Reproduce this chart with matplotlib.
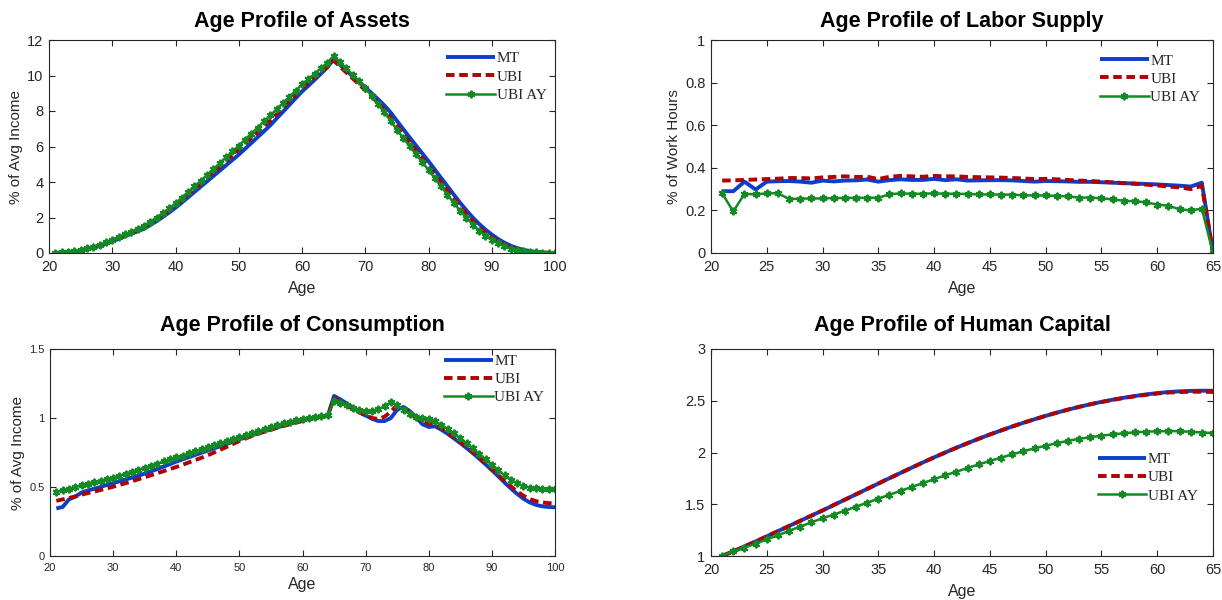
import numpy as np
import matplotlib
matplotlib.use("Agg")
import matplotlib.pyplot as plt
from matplotlib.ticker import FuncFormatter

# ---------------- data ----------------
age_long = list(range(21, 101))
age_work = list(range(21, 66))

assets_mt = [0.00, 0.02, 0.05, 0.09, 0.14, 0.21, 0.29, 0.39, 0.52, 0.66,
             0.80, 0.94, 1.08, 1.22, 1.36, 1.57, 1.79, 2.03, 2.28, 2.55,
             2.84, 3.14, 3.44, 3.74, 4.04, 4.34, 4.64, 4.94, 5.24, 5.54,
             5.87, 6.20, 6.53, 6.86, 7.20, 7.58, 7.96, 8.34, 8.72, 9.10,
             9.42, 9.76, 10.10, 10.46, 10.90, 10.60, 10.28, 9.97, 9.65, 9.33,
             9.00, 8.67, 8.32, 7.92, 7.45, 6.98, 6.52, 6.07, 5.62, 5.17,
             4.70, 4.23, 3.76, 3.29, 2.83, 2.40, 2.00, 1.64, 1.32, 1.04,
             0.79, 0.58, 0.41, 0.28, 0.18, 0.11, 0.06, 0.03, 0.01, 0.00]
assets_ubi = [0.00, 0.02, 0.06, 0.10, 0.16, 0.23, 0.32, 0.42, 0.55, 0.71,
              0.85, 1.00, 1.14, 1.29, 1.45, 1.67, 1.90, 2.14, 2.40, 2.68,
              2.98, 3.29, 3.60, 3.91, 4.22, 4.54, 4.86, 5.18, 5.50, 5.82,
              6.15, 6.48, 6.81, 7.14, 7.47, 7.83, 8.19, 8.55, 8.91, 9.27,
              9.58, 9.88, 10.18, 10.48, 10.85, 10.50, 10.17, 9.84, 9.50, 9.17,
              8.82, 8.46, 8.08, 7.65, 7.18, 6.71, 6.25, 5.80, 5.35, 4.90,
              4.44, 3.98, 3.52, 3.06, 2.61, 2.19, 1.80, 1.45, 1.15, 0.89,
              0.67, 0.48, 0.33, 0.22, 0.14, 0.08, 0.04, 0.02, 0.01, 0.00]
assets_ay = [0.00, 0.03, 0.07, 0.12, 0.18, 0.26, 0.35, 0.46, 0.60, 0.76,
             0.90, 1.05, 1.20, 1.36, 1.53, 1.76, 2.00, 2.25, 2.52, 2.80,
             3.11, 3.43, 3.75, 4.07, 4.40, 4.73, 5.06, 5.39, 5.72, 6.05,
             6.39, 6.73, 7.07, 7.41, 7.75, 8.10, 8.45, 8.80, 9.15, 9.50,
             9.80, 10.10, 10.40, 10.72, 11.10, 10.75, 10.40, 10.05, 9.68, 9.30,
             8.85, 8.40, 7.93, 7.45, 6.95, 6.48, 6.02, 5.57, 5.12, 4.68,
             4.21, 3.75, 3.28, 2.82, 2.38, 1.98, 1.60, 1.25, 0.98, 0.75,
             0.55, 0.38, 0.25, 0.16, 0.10, 0.06, 0.03, 0.02, 0.01, 0.00]

labor_mt = [0.290, 0.290, 0.335, 0.298, 0.335, 0.337, 0.338, 0.335, 0.330, 0.340,
            0.336, 0.340, 0.341, 0.345, 0.335, 0.342, 0.346, 0.343, 0.343, 0.348,
            0.342, 0.346, 0.340, 0.341, 0.342, 0.342, 0.341, 0.338, 0.335, 0.338,
            0.337, 0.336, 0.334, 0.334, 0.332, 0.330, 0.328, 0.326, 0.324, 0.322,
            0.319, 0.316, 0.312, 0.330, 0.0]
labor_ubi = [0.340, 0.341, 0.343, 0.345, 0.347, 0.349, 0.352, 0.352, 0.350, 0.355,
             0.357, 0.360, 0.357, 0.358, 0.347, 0.358, 0.362, 0.360, 0.358, 0.362,
             0.360, 0.360, 0.357, 0.356, 0.355, 0.354, 0.352, 0.350, 0.347, 0.348,
             0.346, 0.343, 0.340, 0.338, 0.335, 0.332, 0.328, 0.325, 0.321, 0.317,
             0.312, 0.308, 0.300, 0.315, 0.0]
labor_ay = [0.280, 0.195, 0.278, 0.275, 0.280, 0.281, 0.253, 0.255, 0.256, 0.256,
            0.258, 0.258, 0.259, 0.259, 0.259, 0.276, 0.280, 0.278, 0.278, 0.280,
            0.278, 0.278, 0.277, 0.275, 0.275, 0.274, 0.274, 0.271, 0.270, 0.270,
            0.268, 0.266, 0.260, 0.260, 0.257, 0.252, 0.245, 0.243, 0.238, 0.227,
            0.222, 0.205, 0.200, 0.208, 0.0]

cons_mt = [0.345, 0.355, 0.410, 0.430, 0.460, 0.475, 0.487, 0.500, 0.515, 0.528,
           0.541, 0.555, 0.568, 0.582, 0.597, 0.613, 0.630, 0.648, 0.666, 0.684,
           0.700, 0.716, 0.732, 0.748, 0.764, 0.780, 0.796, 0.812, 0.828, 0.845,
           0.860, 0.875, 0.890, 0.904, 0.918, 0.932, 0.945, 0.958, 0.970, 0.982,
           0.993, 1.002, 1.010, 1.015, 1.160, 1.135, 1.105, 1.075, 1.045, 1.018,
           0.995, 0.978, 0.978, 1.000, 1.060, 1.080, 1.050, 1.005, 0.955, 0.935,
           0.940, 0.915, 0.885, 0.852, 0.818, 0.782, 0.745, 0.705, 0.664, 0.622,
           0.578, 0.533, 0.490, 0.450, 0.415, 0.388, 0.370, 0.360, 0.355, 0.353]
cons_ubi = [0.400, 0.410, 0.420, 0.432, 0.444, 0.456, 0.467, 0.478, 0.490, 0.502,
            0.515, 0.528, 0.542, 0.556, 0.570, 0.585, 0.600, 0.615, 0.630, 0.645,
            0.661, 0.678, 0.695, 0.712, 0.730, 0.750, 0.770, 0.791, 0.812, 0.833,
            0.852, 0.870, 0.886, 0.901, 0.915, 0.929, 0.942, 0.955, 0.967, 0.978,
            0.990, 1.000, 1.008, 1.014, 1.145, 1.120, 1.092, 1.065, 1.040, 1.018,
            1.000, 0.993, 1.010, 1.045, 1.095, 1.070, 1.035, 1.000, 0.975, 0.960,
            0.950, 0.925, 0.893, 0.860, 0.826, 0.790, 0.752, 0.712, 0.672, 0.630,
            0.588, 0.545, 0.505, 0.468, 0.437, 0.413, 0.397, 0.388, 0.383, 0.381]
cons_ay = [0.465, 0.475, 0.488, 0.500, 0.512, 0.523, 0.535, 0.546, 0.557, 0.568,
           0.582, 0.597, 0.612, 0.626, 0.640, 0.655, 0.670, 0.685, 0.700, 0.714,
           0.728, 0.743, 0.758, 0.773, 0.788, 0.803, 0.818, 0.833, 0.848, 0.862,
           0.876, 0.890, 0.905, 0.920, 0.935, 0.950, 0.962, 0.973, 0.983, 0.992,
           1.000, 1.008, 1.015, 1.020, 1.125, 1.108, 1.092, 1.075, 1.060, 1.048,
           1.050, 1.062, 1.085, 1.115, 1.095, 1.060, 1.030, 1.010, 1.000, 0.990,
           0.975, 0.950, 0.920, 0.888, 0.853, 0.817, 0.780, 0.740, 0.700, 0.660,
           0.622, 0.585, 0.553, 0.527, 0.508, 0.496, 0.490, 0.488, 0.488, 0.487]

hc_mt = [1.000, 1.045, 1.092, 1.140, 1.190, 1.240, 1.290, 1.340, 1.390, 1.440,
         1.492, 1.544, 1.596, 1.648, 1.700, 1.752, 1.803, 1.854, 1.904, 1.953,
         2.000, 2.046, 2.090, 2.133, 2.174, 2.213, 2.251, 2.287, 2.321, 2.354,
         2.385, 2.414, 2.441, 2.466, 2.489, 2.510, 2.529, 2.546, 2.561, 2.574,
         2.584, 2.591, 2.595, 2.597, 2.597]
hc_ubi = [1.000, 1.045, 1.092, 1.140, 1.190, 1.240, 1.290, 1.340, 1.390, 1.440,
          1.492, 1.544, 1.596, 1.648, 1.700, 1.752, 1.803, 1.854, 1.904, 1.953,
          2.000, 2.046, 2.090, 2.133, 2.174, 2.213, 2.251, 2.287, 2.321, 2.354,
          2.385, 2.414, 2.441, 2.466, 2.488, 2.508, 2.527, 2.543, 2.557, 2.570,
          2.579, 2.584, 2.587, 2.587, 2.585]
hc_ay = [1.000, 1.048, 1.080, 1.120, 1.160, 1.200, 1.243, 1.285, 1.325, 1.365,
         1.400, 1.438, 1.477, 1.515, 1.555, 1.592, 1.630, 1.667, 1.705, 1.742,
         1.780, 1.815, 1.850, 1.885, 1.918, 1.950, 1.982, 2.012, 2.040, 2.065,
         2.090, 2.113, 2.132, 2.148, 2.162, 2.175, 2.186, 2.195, 2.201, 2.205,
         2.207, 2.206, 2.200, 2.193, 2.188]

series_labels = ["MT", "UBI", "UBI AY"]
titles = ["Age Profile of Assets", "Age Profile of Labor Supply",
          "Age Profile of Consumption", "Age Profile of Human Capital"]
ylabels = ["% of Avg Income", "% of Work Hours", "% of Avg Income", ""]

# ---------------- style ----------------
C_BLUE = "#0a3fcc"
C_RED = "#b00000"
C_GREEN = "#148a24"
TXT = "#262626"
SANS = ["Liberation Sans", "DejaVu Sans"]
SERIF = ["Liberation Serif", "DejaVu Serif"]
plt.rcParams["font.family"] = SANS

fig = plt.figure(figsize=(12.22, 6.0), dpi=100)
W, H = 1222, 600

def make_ax(l, r, t, b):
    return fig.add_axes([l / W, 1 - b / H, (r - l) / W, (b - t) / H])

axes = [make_ax(49, 555, 40, 253), make_ax(711, 1213, 40, 253),
        make_ax(50, 555, 349, 556), make_ax(711, 1213, 349, 556)]

data = [
    (age_long, assets_mt, assets_ubi, assets_ay, (20, 100), (0, 12), range(20, 101, 10), np.arange(0, 13, 2)),
    (age_work, labor_mt, labor_ubi, labor_ay, (20, 65), (0, 1), range(20, 66, 5), np.arange(0, 1.01, 0.2)),
    (age_long, cons_mt, cons_ubi, cons_ay, (20, 100), (0, 1.5), range(20, 101, 10), np.arange(0, 1.51, 0.5)),
    (age_work, hc_mt, hc_ubi, hc_ay, (20, 65), (1, 3), range(20, 66, 5), np.arange(1, 3.01, 0.5)),
]
tick_fs = [10.5, 10.5, 8.0, 10.5]
title_pad = [9, 9, 13, 13]
xlabel_pad = [5, 5, 3, 5]
legend_anchor = [(0.785, 0.945), (0.775, 0.935), (0.78, 0.975), (0.77, 0.50)]

for i, ax in enumerate(axes):
    x, mt, ubi, ay, xl, yl, xt, yt = data[i]
    ax.plot(x, mt, color=C_BLUE, lw=2.8, label=series_labels[0], solid_capstyle="butt")
    ax.plot(x, ubi, color=C_RED, lw=2.8, ls=(0, (2.2, 1.2)), label=series_labels[1])
    ax.plot(x, ay, color=C_GREEN, lw=1.8, marker=(6, 2, 0), ms=5.5, mew=1.4,
            label=series_labels[2])
    ax.set_xlim(*xl)
    ax.set_ylim(*yl)
    ax.set_xticks(list(xt))
    ax.set_yticks(yt)
    ax.yaxis.set_major_formatter(FuncFormatter(lambda v, p: "%g" % round(v, 4)))
    ax.tick_params(direction="in", top=True, right=True, length=4, width=0.8,
                   colors=TXT, labelsize=tick_fs[i], labelcolor=TXT)
    ax.tick_params(axis="x", pad=5)
    ax.tick_params(axis="y", pad=4)
    for s in ax.spines.values():
        s.set_color(TXT)
        s.set_linewidth(0.8)
    ax.set_title(titles[i], fontsize=15.5, fontweight="bold", color="black", pad=title_pad[i])
    ax.set_xlabel("Age", fontsize=11.5, color=TXT, labelpad=xlabel_pad[i])
    if ylabels[i]:
        ax.set_ylabel(ylabels[i], fontsize=11, color=TXT, labelpad=3)
    leg = ax.legend(loc="upper left", bbox_to_anchor=legend_anchor[i], frameon=False,
                    prop={"family": SERIF, "size": 11}, handlelength=3.2,
                    handletextpad=0.1, labelspacing=0.3, borderpad=0, borderaxespad=0)
    for t in leg.get_texts():
        t.set_color(TXT)

fig.savefig("out.png", dpi=100)
